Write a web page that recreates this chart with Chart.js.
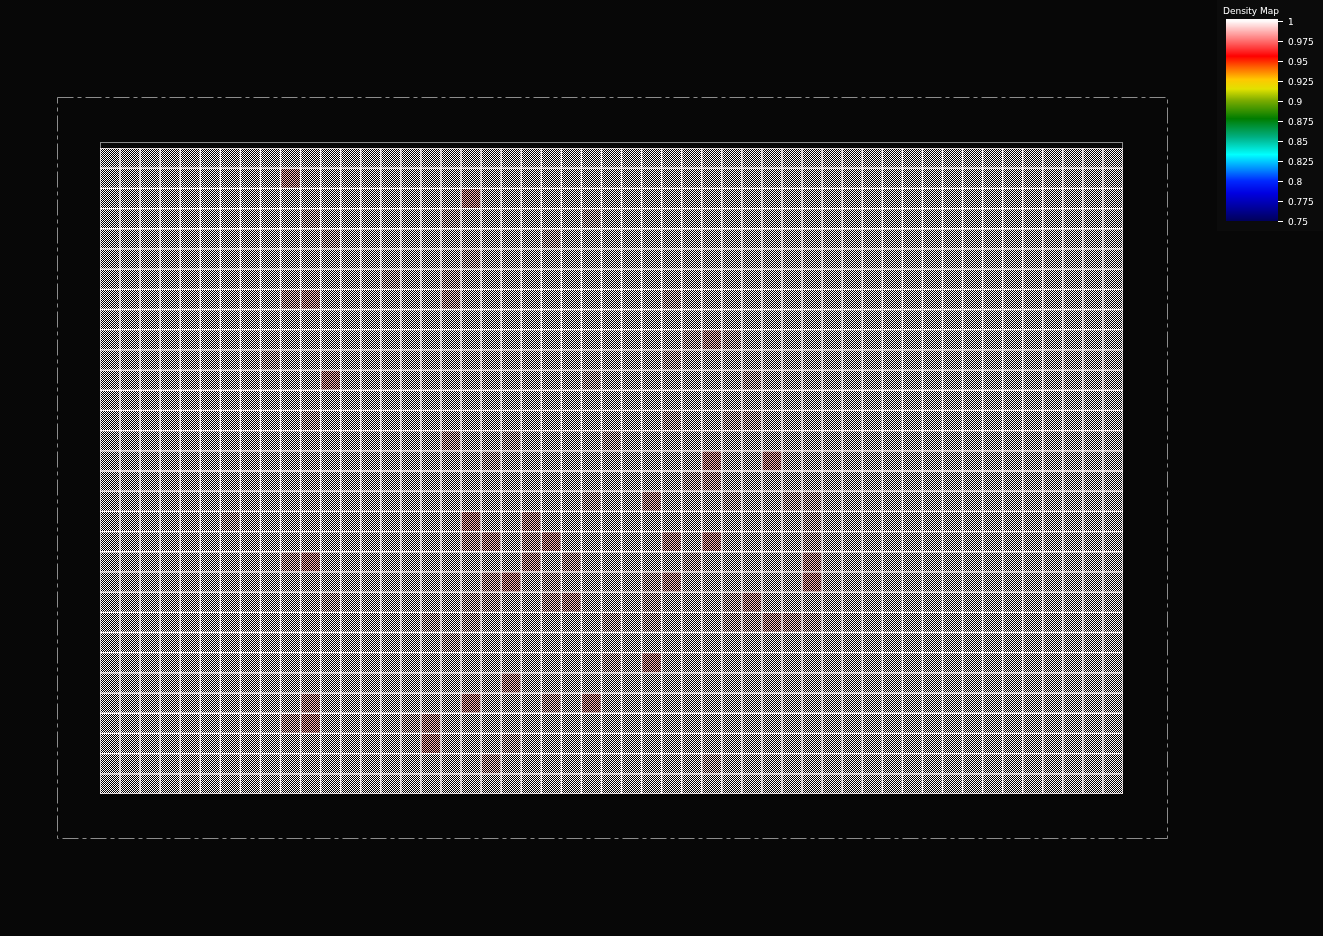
<!DOCTYPE html>
<html><head><meta charset="utf-8">
<script src="https://cdn.jsdelivr.net/npm/chart.js@4.4.1/dist/chart.umd.min.js"></script>
<style>html,body{margin:0;padding:0;background:#070707;overflow:hidden;width:1323px;height:936px;}canvas{display:block;}</style>
</head><body>
<canvas id="c" width="1323" height="936"></canvas>
<script>
// ---- data ----
const columnLabels = ['1','2','3','4','5','6','7','8','9','10','11','12','13','14','15','16','17','18','19','20','21','22','23','24','25','26','27','28','29','30','31','32','33','34','35','36','37','38','39','40','41','42','43','44','45','46','47','48','49','50','51'];
const rowLabels = ['1','2','3','4','5','6','7','8','9','10','11','12','13','14','15','16','17','18','19','20','21','22','23','24','25','26','27','28','29','30','31','32'];
const baseDensity = 1.0;
// cells that differ from the base density (0-based column / row from top-left)
const anomalyCol = [9,18,10,17,24,11,22,18,14,17,9,10,17,8,11,24,10,17,20,25,19,
  28,29,30,31,28,32,28,31,32,30,33,
  24,6,18,21,18,19,21,22,9,10,21,23,19,20,22,11,18,19,22,23,16,18,25,17,25,20,10,18,22,24,9,10,15,16,16,20,19,
  29,30,27,31,34,35,35,28,30,35,29,35,27,28,35,27,31,32,27,31,32,33,34,35,27,30];
const anomalyRow = [1,2,3,3,3,4,4,5,6,6,7,7,7,10,11,11,13,14,14,14,15,
  7,9,9,9,10,11,13,13,13,15,15,
  17,18,18,18,19,19,19,19,20,20,20,20,21,21,21,22,22,22,22,22,23,23,23,24,25,26,27,27,27,27,28,28,28,28,29,29,30,
  16,16,17,17,17,17,18,19,19,19,20,20,21,21,21,22,22,22,23,23,23,23,23,23,25,30];
const anomalyValue = [0.988,0.987,0.996,0.996,0.996,0.996,0.996,0.996,0.996,0.996,0.993,0.990,0.993,0.996,0.987,0.996,0.996,0.993,0.996,0.996,0.996,
  0.996,0.996,0.990,0.996,0.996,0.996,0.996,0.996,0.996,0.987,0.987,
  0.996,0.996,0.987,0.990,0.993,0.990,0.993,0.987,0.993,0.987,0.990,0.993,0.993,0.987,0.996,0.996,0.996,0.996,0.993,0.990,0.996,0.996,0.996,0.996,0.996,0.990,0.990,0.987,0.993,0.987,0.993,0.987,0.996,0.990,0.987,0.996,0.993,
  0.996,0.993,0.990,0.997,0.996,0.996,0.996,0.990,0.987,0.996,0.996,0.990,0.996,0.990,0.987,0.996,0.996,0.990,0.996,0.996,0.996,0.990,0.993,0.996,0.987,0.996];
const colorbarTitle = 'Density Map';
const colorbarTicks = [1,0.975,0.95,0.925,0.9,0.875,0.85,0.825,0.8,0.775,0.75];
const colorbarLabels = ['1','0.975','0.95','0.925','0.9','0.875','0.85','0.825','0.8','0.775','0.75'];

// ---- colour map (style) ----
const cmapStops = [
  [0.75,[0,0,90]],[0.765,[0,0,150]],[0.785,[0,0,225]],[0.8,[0,40,255]],[0.815,[0,140,255]],
  [0.833,[0,255,255]],[0.855,[0,175,130]],[0.878,[0,125,0]],[0.9,[120,170,0]],[0.915,[225,225,0]],
  [0.927,[255,200,0]],[0.942,[255,100,0]],[0.956,[255,0,0]],[0.975,[255,110,110]],[1.0,[255,250,250]]
];
function cmap(v){
  if(v<=cmapStops[0][0]) return cmapStops[0][1];
  for(let i=1;i<cmapStops.length;i++){
    if(v<=cmapStops[i][0]){
      const [a,ca]=cmapStops[i-1],[b,cb]=cmapStops[i];
      const t=(v-a)/(b-a);
      return ca.map((c,k)=>Math.round(c+(cb[k]-c)*t));
    }
  }
  return cmapStops[cmapStops.length-1][1];
}
const patternCache = {};
function checker(rgb){
  const key=rgb.join(',');
  if(patternCache[key]) return patternCache[key];
  const pc=document.createElement('canvas'); pc.width=2; pc.height=2;
  const g=pc.getContext('2d');
  g.fillStyle='#000'; g.fillRect(0,0,2,2);
  g.fillStyle='rgb('+key+')'; g.fillRect(0,0,1,1); g.fillRect(1,1,1,1);
  const p=document.getElementById('c').getContext('2d').createPattern(pc,'repeat');
  patternCache[key]=p; return p;
}

// ---- build matrix ----
const density = rowLabels.map(()=>columnLabels.map(()=>baseDensity));
anomalyCol.forEach((c,i)=>{ density[anomalyRow[i]][c]=anomalyValue[i]; });

const datasets = rowLabels.map((rl,r)=>({
  label: 'Row '+rl,
  data: columnLabels.map(()=>[r, r+1]),
  backgroundColor: density[r].map(v=>checker(cmap(v))),
  borderColor: '#fff6f6',
  borderWidth: 1,
  borderSkipped: false,
  grouped: false,
  barPercentage: 1,
  categoryPercentage: 1
}));

const decor = {
  id:'decor',
  beforeDraw(chart){
    const ctx=chart.ctx, a=chart.chartArea;
    ctx.save();
    ctx.fillStyle='#070707'; ctx.fillRect(0,0,chart.width,chart.height);
    // outer dash-dot frame
    ctx.strokeStyle='#8c8c8c'; ctx.lineWidth=1; ctx.setLineDash([16,4,4,4]);
    ctx.strokeRect(Math.round(a.left-43)+0.5, Math.round(a.top-51)+0.5, Math.round(a.width+87), Math.round(a.height+95));
    ctx.setLineDash([]);
    // inner plot frame
    ctx.strokeStyle='#8a8a8a';
    ctx.strokeRect(a.left+0.5, a.top-5.5, a.width-1, a.height+5);
    ctx.fillStyle='#fff6f6'; ctx.fillRect(a.left, a.top, a.width, a.height);
    // colorbar
    const bx=1226, bw=52, top=21, bot=221;
    ctx.fillStyle='#0b0b0b'; ctx.fillRect(1217,0,106,231);
    const vmax=colorbarTicks[0], vmin=colorbarTicks[colorbarTicks.length-1];
    for(let y=top-2;y<bot;y++){
      const v=vmax-(y+0.5-top)/(bot-top)*(vmax-vmin);
      ctx.fillStyle='rgb('+cmap(Math.min(vmax,v)).join(',')+')';
      ctx.fillRect(bx,y,bw,1);
    }
    ctx.fillStyle='#fff'; ctx.strokeStyle='#fff';
    ctx.font='9px "DejaVu Sans"'; ctx.textBaseline='middle'; ctx.textAlign='left';
    colorbarTicks.forEach((t,i)=>{
      const y=Math.round(top+(vmax-t)/(vmax-vmin)*(bot-top))+0.5;
      ctx.beginPath(); ctx.moveTo(bx+bw,y); ctx.lineTo(bx+bw+5,y); ctx.stroke();
      ctx.fillText(colorbarLabels[i], bx+bw+10, y+1);
    });
    ctx.textAlign='center';
    ctx.fillText(colorbarTitle, bx+bw/2-1, 12);
    ctx.restore();
  }
};

new Chart(document.getElementById('c'),{
  type:'bar',
  data:{labels:columnLabels, datasets},
  options:{
    responsive:false, animation:false, events:[],
    layout:{padding:{left:100, top:148, right:200, bottom:142}},
    plugins:{legend:{display:false}, tooltip:{enabled:false}, title:{display:false}},
    scales:{
      x:{display:false, offset:true, grid:{display:false}},
      y:{display:false, min:0, max:rowLabels.length, reverse:true, grid:{display:false}}
    }
  },
  plugins:[decor]
});
</script>
</body></html>
